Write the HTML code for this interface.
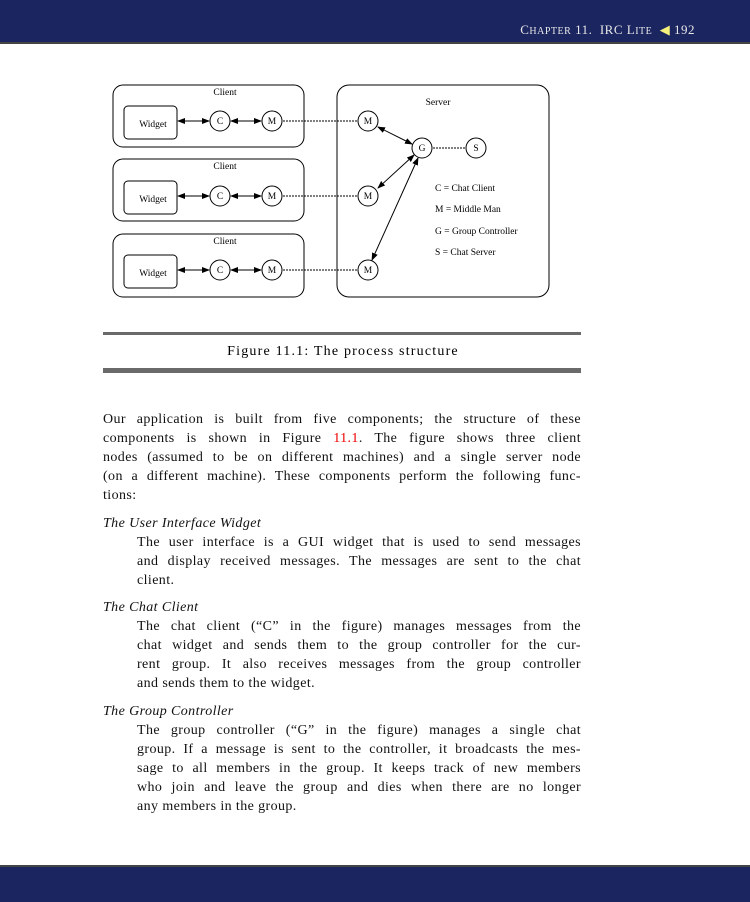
<!DOCTYPE html>
<html><head><style>
body{margin:0;width:750px;height:900px;position:relative;background:#fff;font-family:"Liberation Serif",serif;color:#111;overflow:hidden}
.hd{position:absolute;left:0;top:0;width:750px;height:42px;background:#1b2560;border-bottom:2px solid #444}
.hd span{position:absolute;right:55px;top:22px;color:#e8e8e8;font-size:13px;letter-spacing:0.5px}
.ft{position:absolute;left:0;top:865px;width:750px;height:35px;background:#1b2560;border-top:2px solid #444}
.p{position:absolute;left:103px;width:478px;font-size:14px;line-height:19px;letter-spacing:0.4px}
.p div{text-align:justify;text-align-last:justify;white-space:nowrap}
.p div.l{text-align-last:left}
.i{font-style:italic}
.d{left:137px;width:444px}
</style></head><body>
<div class="hd"><span>C<span style="position:static;font-size:10px">HAPTER</span> 11. &nbsp;IRC L<span style="position:static;font-size:10px">ITE</span> &nbsp;<span style="position:static;color:#f5f07a">◀</span> 192</span></div>
<svg width="750" height="400" style="position:absolute;left:0;top:0" font-family="Liberation Serif" font-size="9.5">
<defs><marker id="a" markerWidth="8" markerHeight="6" refX="7" refY="3" orient="auto-start-reverse"><path d="M0,0L8,3L0,6z" fill="#000"/></marker></defs>
<g fill="none" stroke="#000" stroke-width="1">
<rect x="113" y="85" width="191" height="62" rx="10"/>
<rect x="113" y="159" width="191" height="62" rx="10"/>
<rect x="113" y="234" width="191" height="63" rx="10"/>
<rect x="337" y="85" width="212" height="212" rx="12"/>
<rect x="124" y="106" width="53" height="33" rx="4"/>
<rect x="124" y="181" width="53" height="33" rx="4"/>
<rect x="124" y="255" width="53" height="33" rx="4"/>
</g>
<g fill="#fff" stroke="#000">
<circle cx="220" cy="121" r="10"/><circle cx="272" cy="121" r="10"/>
<circle cx="220" cy="196" r="10"/><circle cx="272" cy="196" r="10"/>
<circle cx="220" cy="270" r="10"/><circle cx="272" cy="270" r="10"/>
<circle cx="368" cy="121" r="10"/><circle cx="368" cy="196" r="10"/><circle cx="368" cy="270" r="10"/>
<circle cx="422" cy="148" r="10"/><circle cx="476" cy="148" r="10"/>
</g>
<g stroke="#000" marker-start="url(#a)" marker-end="url(#a)">
<line x1="178" y1="121" x2="209" y2="121"/><line x1="231" y1="121" x2="261" y2="121"/>
<line x1="178" y1="196" x2="209" y2="196"/><line x1="231" y1="196" x2="261" y2="196"/>
<line x1="178" y1="270" x2="209" y2="270"/><line x1="231" y1="270" x2="261" y2="270"/>
<line x1="378" y1="127" x2="412" y2="144"/>
<line x1="378" y1="188" x2="414" y2="155"/>
<line x1="372" y1="260" x2="418" y2="158"/>
</g>
<g stroke="#000" stroke-dasharray="2,1">
<line x1="283" y1="121" x2="357" y2="121"/><line x1="283" y1="196" x2="357" y2="196"/><line x1="283" y1="270" x2="357" y2="270"/>
<line x1="433" y1="148" x2="465" y2="148"/>
</g>
<g text-anchor="middle">
<text x="225" y="95">Client</text><text x="225" y="169">Client</text><text x="225" y="244">Client</text>
<text x="438" y="105">Server</text>
<text x="153" y="127">Widget</text><text x="153" y="202">Widget</text><text x="153" y="276">Widget</text>
<text x="220" y="124">C</text><text x="272" y="124">M</text>
<text x="220" y="199">C</text><text x="272" y="199">M</text>
<text x="220" y="273">C</text><text x="272" y="273">M</text>
<text x="368" y="124">M</text><text x="368" y="199">M</text><text x="368" y="273">M</text>
<text x="422" y="151">G</text><text x="476" y="151">S</text>
</g>
<text x="435" y="191">C = Chat Client</text>
<text x="435" y="212">M = Middle Man</text>
<text x="435" y="234">G = Group Controller</text>
<text x="435" y="255">S = Chat Server</text>
<rect x="103" y="332" width="478" height="3" fill="#6a6a6a"/>
<rect x="103" y="368" width="478" height="5" fill="#6a6a6a"/>
<text x="343" y="355" text-anchor="middle" font-size="14" letter-spacing="1.2">Figure 11.1: The process structure</text>
</svg>
<div class="p" style="top:410px">
<div>Our application is built from five components; the structure of these</div>
<div>components is shown in Figure <span style="color:#e00">11.1</span>. The figure shows three client</div>
<div>nodes (assumed to be on different machines) and a single server node</div>
<div>(on a different machine). These components perform the following func-</div>
<div class="l">tions:</div>
</div>
<div class="p i" style="top:514px">The User Interface Widget</div>
<div class="p d" style="top:533px">
<div>The user interface is a GUI widget that is used to send messages</div>
<div>and display received messages. The messages are sent to the chat</div>
<div class="l">client.</div>
</div>
<div class="p i" style="top:598px">The Chat Client</div>
<div class="p d" style="top:617px">
<div>The chat client (“C” in the figure) manages messages from the</div>
<div>chat widget and sends them to the group controller for the cur-</div>
<div>rent group. It also receives messages from the group controller</div>
<div class="l">and sends them to the widget.</div>
</div>
<div class="p i" style="top:702px">The Group Controller</div>
<div class="p d" style="top:721px">
<div>The group controller (“G” in the figure) manages a single chat</div>
<div>group. If a message is sent to the controller, it broadcasts the mes-</div>
<div>sage to all members in the group. It keeps track of new members</div>
<div>who join and leave the group and dies when there are no longer</div>
<div class="l">any members in the group.</div>
</div>
<div class="ft"></div>
</body></html>
